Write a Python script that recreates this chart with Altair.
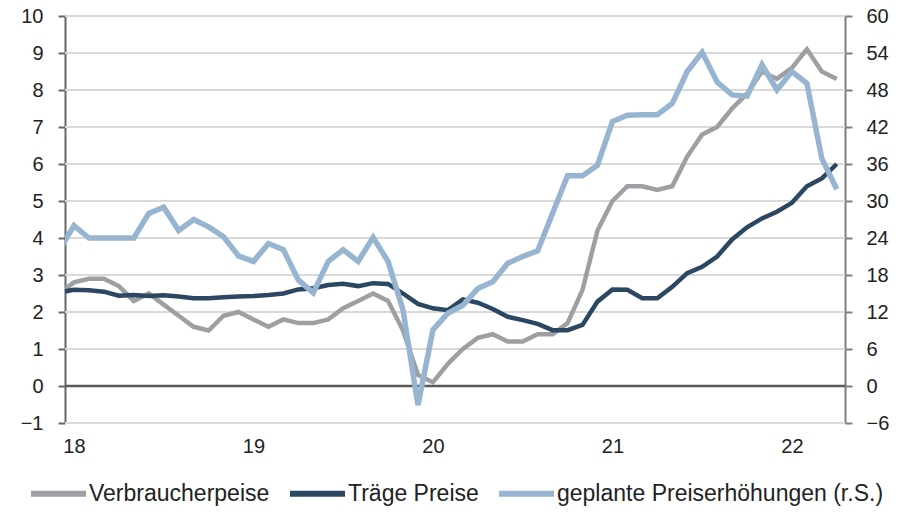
import altair as alt
import pandas as pd

# Monthly data, index 0 = Apr 2018 ... 52 = Aug 2022
months = list(range(53))

verbraucherpreise = [2.5, 2.8, 2.9, 2.9, 2.7, 2.3, 2.5, 2.2, 1.9, 1.6, 1.5, 1.9, 2.0,
                     1.8, 1.6, 1.8, 1.7, 1.7, 1.8, 2.1, 2.3, 2.5, 2.3, 1.5, 0.3, 0.1,
                     0.6, 1.0, 1.3, 1.4, 1.2, 1.2, 1.4, 1.4, 1.7, 2.6, 4.2, 5.0, 5.4,
                     5.4, 5.3, 5.4, 6.2, 6.8, 7.0, 7.5, 7.9, 8.5, 8.3, 8.6, 9.1, 8.5, 8.3]

traege_preise = [2.53, 2.6, 2.59, 2.55, 2.44, 2.46, 2.43, 2.45, 2.42, 2.37, 2.37, 2.4, 2.42,
                 2.43, 2.46, 2.5, 2.61, 2.64, 2.73, 2.76, 2.7, 2.78, 2.76, 2.5, 2.22, 2.1,
                 2.05, 2.34, 2.25, 2.08, 1.87, 1.78, 1.68, 1.51, 1.51, 1.65, 2.28, 2.61, 2.6,
                 2.37, 2.37, 2.68, 3.05, 3.22, 3.5, 3.96, 4.29, 4.53, 4.71, 4.95, 5.4, 5.61, 6.0]

geplante = [22, 26, 24, 24, 24, 24, 28, 29, 25.2, 27, 25.8, 24.2, 21.1,
            20.2, 23.1, 22.1, 17.2, 15.1, 20.2, 22.1, 20.2, 24.1, 20.2, 12.3, -3.1, 9.1,
            11.8, 13.1, 15.8, 16.9, 19.9, 21.0, 21.9, 28.0, 34.1, 34.1, 35.8, 42.9, 43.9,
            44.0, 44.0, 45.8, 51.0, 54.1, 49.3, 47.2, 47.0, 52.1, 48.0, 51.0, 49.1, 36.9, 31.9]

names = ["Verbraucherpeise", "Träge Preise", "geplante Preiserhöhungen (r.S.)"]
colors = ["#9d9fa2", "#2c4762", "#97b5d1"]

x_ticks = [1, 13, 25, 37, 49]
left_ticks = list(range(-1, 11))
right_ticks = list(range(-6, 61, 6))

df_left = pd.DataFrame({
    "m": months * 2,
    "v": verbraucherpreise + traege_preise,
    "s": [names[0]] * len(months) + [names[1]] * len(months),
})
df_right = pd.DataFrame({"m": months, "v": geplante, "s": names[2]})
df_grid = pd.DataFrame({"v": left_ticks})
df_zero = pd.DataFrame({"v": [0]})

FONT = "Liberation Sans"
TXT = "#222222"

x_enc = alt.X(
    "m:Q",
    scale=alt.Scale(domain=[0.4, 52.55], nice=False, zero=False),
    axis=alt.Axis(values=x_ticks,
                  labelExpr="'' + (18 + round((datum.value - 1) / 12))",
                  grid=False, domain=False, ticks=False, labelPadding=13,
                  labelFontSize=20, labelFont=FONT, labelColor=TXT, title=None),
)

color_enc = alt.Color(
    "s:N",
    scale=alt.Scale(domain=names, range=colors),
    sort=names,
    legend=alt.Legend(orient="none", legendX=-37, legendY=447, direction="horizontal",
                      title=None, symbolType="stroke", symbolSize=3025,
                      symbolStrokeWidth=6, labelFontSize=23, labelFont=FONT,
                      labelColor=TXT, labelOffset=0, columnPadding=8, labelLimit=600),
)

left_scale = alt.Scale(domain=[-1, 10], nice=False, zero=False)
left_axis = alt.Axis(values=left_ticks, grid=False, labelOverlap=False,
                     domainColor="#666666", domainWidth=2, tickColor="#666666", tickWidth=2,
                     tickSize=7, labelPadding=15, labelFontSize=20, labelFont=FONT,
                     labelColor=TXT, title=None)

grid_rules = alt.Chart(df_grid).mark_rule(color="#d9d9d9", strokeWidth=2).encode(
    y=alt.Y("v:Q", scale=left_scale, axis=left_axis)
)

zero_rule = alt.Chart(df_zero).mark_rule(color="#595959", strokeWidth=2.5).encode(
    y=alt.Y("v:Q", scale=left_scale, axis=left_axis)
)

left_lines = alt.Chart(df_left).mark_line(clip=True, strokeWidth=4.5).encode(
    x=x_enc,
    y=alt.Y("v:Q", scale=left_scale, axis=left_axis),
    color=color_enc,
    order="m:Q",
)

right_line = alt.Chart(df_right).mark_line(clip=True, strokeWidth=5.5).encode(
    x=x_enc,
    y=alt.Y("v:Q",
            scale=alt.Scale(domain=[-6, 60], nice=False, zero=False),
            axis=alt.Axis(values=right_ticks, grid=False, orient="right", labelOverlap=False,
                          domainColor="#7f7f7f", domainWidth=2, tickColor="#7f7f7f",
                          tickWidth=2, tickSize=7, labelPadding=14, labelFontSize=20,
                          labelFont=FONT, labelColor=TXT, title=None)),
    color=color_enc,
    order="m:Q",
)

chart = alt.layer(
    alt.layer(grid_rules, zero_rule, left_lines),
    right_line,
).resolve_scale(y="independent").properties(
    width=780,
    height=407,
    autosize=alt.AutoSizeParams(type="none"),
    padding={"left": 57, "top": 8, "right": 60, "bottom": 84},
).configure_view(stroke=None).configure(background="white")

chart.save("out.html", embed_options={"renderer": "svg", "actions": False})
